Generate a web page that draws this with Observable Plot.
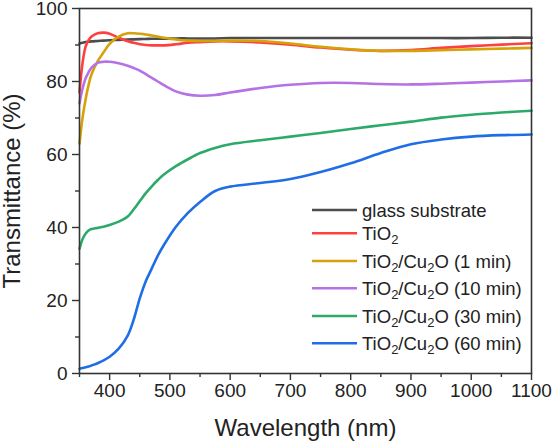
<!DOCTYPE html>
<html>
<head>
<meta charset="utf-8">
<script src="https://cdn.jsdelivr.net/npm/d3@7"></script>
<script src="https://cdn.jsdelivr.net/npm/@observablehq/plot@0.6"></script>
<style>
  body { margin: 0; background: white; }
  #chart { position: relative; width: 553px; height: 443px; }
  g[aria-label="y-axis label"] text, g[aria-label="x-axis label"] text { font-size: 24px; }
</style>
</head>
<body>
<div id="chart"></div>
<script>
const wavelength = [350, 355, 360, 365, 370, 380, 390, 400, 415, 430, 440, 450, 460, 470, 480, 490, 510, 530, 550, 575, 600, 650, 700, 750, 800, 850, 900, 950, 1000, 1050, 1100];

const glass  = [90.4, 90.6, 90.8, 90.9, 91.0, 91.1, 91.2, 91.3, 91.4, 91.5, 91.55, 91.6, 91.65, 91.7, 91.7, 91.7, 91.8, 91.8, 91.8, 91.8, 91.9, 91.9, 91.9, 91.9, 91.9, 91.9, 91.9, 91.9, 91.9, 92.0, 92.0];
const tio2   = [77.0, 85.0, 89.5, 91.3, 92.3, 93.2, 93.4, 93.1, 92.0, 91.0, 90.6, 90.2, 90.0, 89.9, 89.9, 89.9, 90.2, 90.6, 90.8, 91.0, 91.0, 90.7, 90.1, 89.3, 88.7, 88.4, 88.6, 89.2, 89.7, 90.1, 90.5];
const cu1    = [63.0, 70.0, 75.0, 79.0, 82.0, 85.5, 88.0, 90.3, 92.3, 93.2, 93.2, 93.1, 92.9, 92.6, 92.3, 92.0, 91.5, 91.2, 91.1, 91.1, 91.2, 91.1, 90.4, 89.5, 88.8, 88.4, 88.4, 88.6, 88.8, 89.0, 89.2];
const cu10   = [74.0, 78.0, 80.8, 82.5, 83.8, 85.1, 85.4, 85.4, 85.0, 84.3, 83.7, 83.0, 82.0, 81.0, 80.0, 79.0, 77.3, 76.4, 76.1, 76.3, 77.0, 78.2, 79.1, 79.6, 79.6, 79.3, 79.2, 79.4, 79.7, 80.0, 80.3];
const cu30   = [34.2, 36.8, 38.3, 39.2, 39.6, 39.9, 40.2, 40.7, 41.6, 43.0, 45.0, 47.2, 49.4, 51.3, 53.0, 54.5, 56.8, 58.7, 60.4, 61.8, 62.8, 63.9, 64.9, 65.9, 67.0, 68.0, 69.0, 70.1, 70.9, 71.5, 72.0];
const cu60   = [1.3, 1.5, 1.7, 1.9, 2.2, 2.8, 3.6, 4.6, 6.8, 10.4, 14.8, 20.6, 25.3, 28.8, 32.3, 35.2, 40.2, 44.0, 47.0, 50.0, 51.2, 52.2, 53.3, 55.2, 57.6, 60.4, 62.8, 64.1, 64.9, 65.3, 65.5];

const seriesNames = ["glass substrate", "TiO2", "TiO2/Cu2O (1 min)", "TiO2/Cu2O (10 min)", "TiO2/Cu2O (30 min)", "TiO2/Cu2O (60 min)"];
const seriesValues = [glass, tio2, cu1, cu10, cu30, cu60];
const seriesColors = ["#4d4d4d", "#ff4040", "#d6a20a", "#b472e6", "#2daa6a", "#1f6ee6"];

const xMajor = [400, 500, 600, 700, 800, 900, 1000, 1100];
const xMinor = [350, 450, 550, 650, 750, 850, 950, 1050];
const yMajor = [0, 20, 40, 60, 80, 100];
const yMinor = [10, 30, 50, 70, 90];

const data = seriesNames.flatMap((name, i) =>
  wavelength.map((w, j) => ({series: name, x: w, y: seriesValues[i][j]})));

const font = "'Liberation Sans', Arial, Helvetica, sans-serif";

const plot = Plot.plot({
  width: 553,
  height: 443,
  marginLeft: 79,
  marginRight: 22,
  marginTop: 8,
  marginBottom: 70,
  style: {fontFamily: font, background: "white", color: "#222", overflow: "visible"},
  x: {domain: [350, 1100]},
  y: {domain: [0, 100]},
  color: {domain: seriesNames, range: seriesColors},
  marks: [
    Plot.line(data, {x: "x", y: "y", z: "series", stroke: "series", strokeWidth: 2.6, curve: "catmull-rom"}),
    Plot.axisX({ticks: xMinor, tickSize: 4, tickFormat: () => "", label: null, stroke: "#333", strokeWidth: 1.4}),
    Plot.axisX({ticks: xMajor, tickSize: 7, tickPadding: 3, fontSize: 19, stroke: "#333", strokeWidth: 1.4,
      tickFormat: d => String(d),
      label: "Wavelength (nm)", labelAnchor: "center", labelOffset: 62, labelArrow: "none"}),
    Plot.axisY({ticks: yMinor, tickSize: 4, tickFormat: () => "", label: null, stroke: "#333", strokeWidth: 1.4}),
    Plot.axisY({ticks: yMajor, tickSize: 7, tickPadding: 5, fontSize: 19, stroke: "#333", strokeWidth: 1.4,
      tickFormat: d => String(d),
      label: "Transmittance (%)", labelAnchor: "center", labelOffset: 77, labelArrow: "none"}),
    Plot.frame({stroke: "#333", strokeWidth: 1.6})
  ]
});

document.getElementById("chart").appendChild(plot);

// Legend inside the plot area
const svg = d3.select(plot);
const legendRows = [
  {name: ["glass substrate"], y: 210},
  {name: ["TiO", "2"], y: 233.3},
  {name: ["TiO", "2", "/Cu", "2", "O (1 min)"], y: 261},
  {name: ["TiO", "2", "/Cu", "2", "O (10 min)"], y: 288.3},
  {name: ["TiO", "2", "/Cu", "2", "O (30 min)"], y: 316},
  {name: ["TiO", "2", "/Cu", "2", "O (60 min)"], y: 343.3}
];
const lg = svg.append("g")
  .attr("font-family", font).attr("font-size", 18.5).attr("fill", "#222")
  .attr("text-anchor", "start");
legendRows.forEach((row, i) => {
  lg.append("line")
    .attr("x1", 312).attr("x2", 357)
    .attr("y1", row.y).attr("y2", row.y)
    .attr("stroke", seriesColors[i]).attr("stroke-width", 2.6);
  const t = lg.append("text").attr("x", 362).attr("y", row.y + 6.6).attr("text-anchor", "start");
  row.name.forEach((part, k) => {
    const sp = t.append("tspan").text(part);
    if (k % 2 === 1) sp.attr("font-size", 13).attr("dy", 4);
    else if (k > 0) sp.attr("dy", -4);
  });
});
</script>
</body>
</html>
